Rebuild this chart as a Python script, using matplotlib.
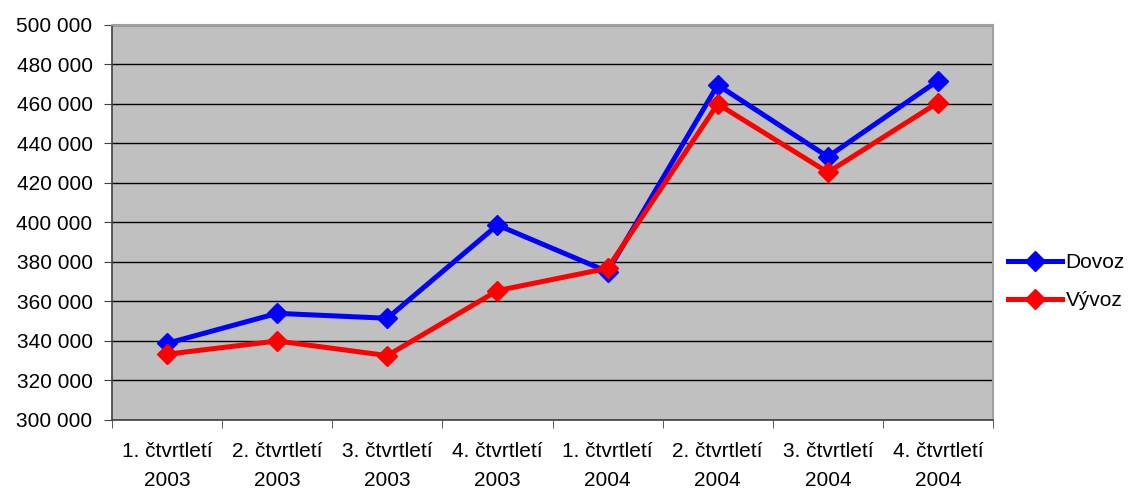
import numpy as np
import matplotlib.pyplot as plt
from matplotlib.ticker import FuncFormatter, MultipleLocator

plt.rcParams['font.family'] = ['Liberation Sans', 'DejaVu Sans']

# Data
kategorie = ['1. čtvrtletí\n2003', '2. čtvrtletí\n2003', '3. čtvrtletí\n2003', '4. čtvrtletí\n2003',
             '1. čtvrtletí\n2004', '2. čtvrtletí\n2004', '3. čtvrtletí\n2004', '4. čtvrtletí\n2004']
dovoz = [338800, 354000, 351500, 398700, 375100, 469600, 433300, 471800]
vyvoz = [333300, 340000, 332600, 365500, 376800, 460000, 425400, 460700]

fig = plt.figure(figsize=(11.3, 4.9), dpi=100)
ax = fig.add_axes([0.0991, 0.1429, 0.7797, 0.8061])
ax.set_facecolor('#C0C0C0')

x = np.arange(len(kategorie))
ax.plot(x, dovoz, color='#0000FF', lw=3.6, marker='D', ms=10, label='Dovoz', zorder=3)
ax.plot(x, vyvoz, color='#FF0000', lw=3.6, marker='D', ms=10, label='Vývoz', zorder=4)

ax.set_ylim(300000, 500000)
ax.set_xlim(-0.5, len(kategorie) - 0.5)
ax.yaxis.set_major_locator(MultipleLocator(20000))
ax.yaxis.set_major_formatter(FuncFormatter(lambda v, p: '{:,.0f}'.format(v).replace(',', ' ')))
ax.grid(axis='y', color='black', lw=1)
ax.set_axisbelow(True)

# popisky uprostred kategorii, carky na hranicich
ax.set_xticks(x)
ax.set_xticklabels(kategorie, linespacing=1.65)
ax.set_xticks(np.arange(-0.5, len(kategorie)), minor=True)
ax.tick_params(axis='x', which='major', length=0, pad=16, labelsize=15)
ax.tick_params(axis='x', which='minor', length=6, color='#404040', direction='out')
ax.tick_params(axis='y', length=6, color='#404040', labelsize=15, pad=8)

for s in ['top', 'right']:
    ax.spines[s].set_color('#A0A0A0')
    ax.spines[s].set_linewidth(1.5)
for s in ['left', 'bottom']:
    ax.spines[s].set_color('#404040')
    ax.spines[s].set_linewidth(1.2)

ax.legend(loc='center left', bbox_to_anchor=(0.996, 0.35), frameon=False, fontsize=15,
          handlelength=2.6, handletextpad=0.15, labelspacing=0.9)

fig.savefig('out.png', dpi=100)
